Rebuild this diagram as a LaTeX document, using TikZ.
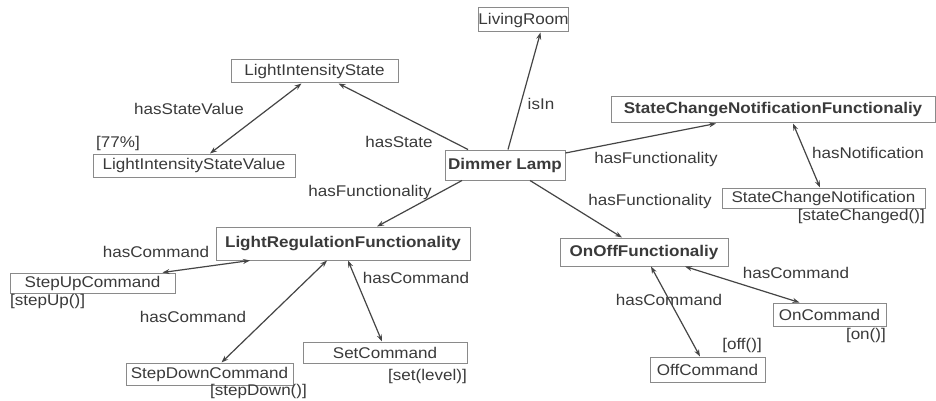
\documentclass[tikz,border=0pt]{standalone}
\usepackage{fontspec}
\setmainfont[FakeStretch=1.1]{Liberation Sans}
\usetikzlibrary{arrows.meta}
\definecolor{txt}{HTML}{3A3A3A}
\definecolor{frame}{HTML}{8A8A8A}
\definecolor{edge}{HTML}{454545}
\tikzset{
  box/.style={draw=frame, line width=1pt, inner sep=0pt, text=txt, font=\fontsize{15.5}{18}\selectfont, align=center},
  bbox/.style={box, font=\fontsize{15.5}{18}\selectfont\bfseries},
  lbl/.style={text=txt, inner sep=0pt, font=\fontsize{15.5}{18}\selectfont},
  one/.style={draw=edge, line width=1.2pt, -{Stealth[length=7pt,width=5pt]}},
  two/.style={draw=edge, line width=1.2pt, {Stealth[length=7pt,width=5pt]}-{Stealth[length=7pt,width=5pt]}}
}
\begin{document}
\begin{tikzpicture}[x=1pt,y=-1pt]
\useasboundingbox[fill=white] (0,0) rectangle (936,401);
% nodes
\node[box, minimum width=63, minimum height=24] (room) at (523.5,20) {LivingRoom};
\node[box, minimum width=167, minimum height=23] (lis) at (314.5,71.5) {LightIntensityState};
\node[box, minimum width=202, minimum height=23] (lisv) at (194,165.5) {LightIntensityStateValue};
\node[bbox, minimum width=120, minimum height=30] (dim) at (505,165) {Dimmer Lamp};
\node[bbox, minimum width=324, minimum height=26] (scnf) at (773,110) {StateChangeNotificationFunctionaliy};
\node[box, minimum width=203, minimum height=20] (scn) at (823.5,198) {StateChangeNotification};
\node[bbox, minimum width=254, minimum height=33] (lrf) at (343,243.5) {LightRegulationFunctionality};
\node[box, minimum width=165, minimum height=20] (up) at (92.5,283) {StepUpCommand};
\node[box, minimum width=167, minimum height=22] (down) at (209.5,374) {StepDownCommand};
\node[box, minimum width=164, minimum height=21] (set) at (385,352.5) {SetCommand};
\node[bbox, minimum width=168, minimum height=28] (onoff) at (644,252) {OnOffFunctionaliy};
\node[box, minimum width=113, minimum height=23] (on) at (829.5,314.5) {OnCommand};
\node[box, minimum width=115, minimum height=25] (off) at (707.5,369.5) {OffCommand};
% annotations
\node[lbl, anchor=west] (a77) at (96,143) {[77\%]};
\node[lbl, anchor=east] (asc) at (925,216) {[stateChanged()]};
\node[lbl, anchor=west] (aup) at (10,301) {[stepUp()]};
\node[lbl, anchor=west] (adown) at (210,391) {[stepDown()]};
\node[lbl, anchor=east] (aset) at (467,376) {[set(level)]};
\node[lbl, anchor=east] (aon) at (886,335) {[on()]};
\node[lbl, anchor=east] (aoff) at (762,345) {[off()]};
% edge labels
\node[lbl] (l1) at (541,104) {isIn};
\node[lbl] (l2) at (399,142) {hasState};
\node[lbl] (l3) at (189,109) {hasStateValue};
\node[lbl] (l4) at (656,159) {hasFunctionality};
\node[lbl] (l5) at (868,153) {hasNotification};
\node[lbl] (l6) at (370,192) {hasFunctionality};
\node[lbl] (l7) at (650,201) {hasFunctionality};
\node[lbl] (l8) at (156,252) {hasCommand};
\node[lbl] (l9) at (193,317) {hasCommand};
\node[lbl] (l10) at (416,278) {hasCommand};
\node[lbl] (l11) at (669,300) {hasCommand};
\node[lbl] (l12) at (796,273) {hasCommand};
% edges
\draw[one] ([xshift=3pt]dim.north) -- ([xshift=17pt]room.south);
\draw[one] ([xshift=-37pt]dim.north) -- ([xshift=24pt]lis.south);
\draw[two] ([xshift=-13pt]lis.south) -- ([xshift=16pt]lisv.north);
\draw[one] ([yshift=12pt]dim.east) -- ([xshift=-57pt]scnf.south);
\draw[two] ([xshift=20pt]scnf.south) -- ([xshift=-3.5pt]scn.north);
\draw[one] ([xshift=-43pt]dim.south) -- ([xshift=34pt]lrf.north);
\draw[one] ([xshift=25pt]dim.south) -- ([xshift=-22pt]onoff.north);
\draw[two] ([xshift=-93pt]lrf.south) -- ([xshift=70pt]up.north);
\draw[two] ([xshift=-16pt]lrf.south) -- ([xshift=12pt]down.north);
\draw[two] ([xshift=5pt]lrf.south) -- ([xshift=-3pt]set.north);
\draw[two] ([xshift=41pt]onoff.south) -- ([xshift=-30pt]on.north);
\draw[two] ([xshift=7pt]onoff.south) -- ([xshift=-7.5pt]off.north);
\end{tikzpicture}
\end{document}
